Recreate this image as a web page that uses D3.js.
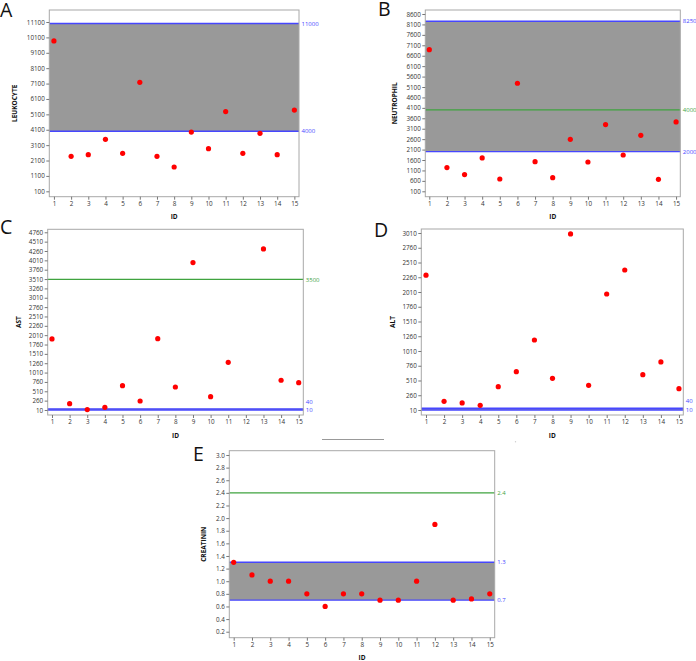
<!DOCTYPE html>
<html><head><meta charset="utf-8">
<script src="https://cdn.jsdelivr.net/npm/d3@7"></script>
<style>
html,body{margin:0;padding:0;background:#fff;}
svg{display:block;}
text{font-family:"Open Sans","Liberation Sans",sans-serif;}
</style></head>
<body>
<svg id="c" width="696" height="661"></svg>
<script>
const ids = [1,2,3,4,5,6,7,8,9,10,11,12,13,14,15];
const leukocyte = [9870,2370,2480,3480,2570,7180,2370,1680,3950,2870,5280,2570,3870,2480,5380];
const neutrophil = [6890,1235,900,1700,690,5280,1520,755,2590,1505,3300,1840,2785,675,3425];
const ast = [1910,180,20,80,660,250,1915,625,3950,365,1285,null,4315,805,740];
const alt = [2295,157,129,89,405,660,1196,547,2995,428,1976,2383,609,824,372];
const creatinin = [1.3,1.1,1.0,1.0,0.8,0.6,0.8,0.8,0.7,0.7,1.0,1.9,0.7,0.72,0.8];

const leukoTicks = [100,1100,2100,3100,4100,5100,6100,7100,8100,9100,10100,11100];
const neutroTicks = [100,600,1100,1600,2100,2600,3100,3600,4100,4600,5100,5600,6100,6600,7100,7600,8100,8600];
const astTicks = [10,260,510,760,1010,1260,1510,1760,2010,2260,2510,2760,3010,3260,3510,3760,4010,4260,4510,4760];
const altTicks = [10,260,510,760,1010,1260,1510,1760,2010,2260,2510,2760,3010];
const creaTicks = [0.2,0.4,0.6,0.8,1.0,1.2,1.4,1.6,1.8,2.0,2.2,2.4,2.6,2.8,3.0];

const BLUE = "#4646ff", GREEN = "#3fa33f";

const panels = [
  {letter:"A", title:"LEUKOCYTE", values:leukocyte, ticks:leukoTicks, fmt:d3.format("d"),
   box:[49.3,10,299,196.7], ydom:[-250,11880], xdom:[0.73,15.27],
   band:[4000,11000], lines:[{v:11000,c:BLUE,t:"11000",dy:0},{v:4000,c:BLUE,t:"4000",dy:0}],
   letterPos:[0,17], titleX:15, idY:217},
  {letter:"B", title:"NEUTROPHIL", values:neutrophil, ticks:neutroTicks, fmt:d3.format("d"),
   box:[425.3,10,680.3,196.7], ydom:[-159,8792], xdom:[0.773,15.24],
   band:[2000,8250], lines:[{v:8250,c:BLUE,t:"8250",dy:0},{v:2000,c:BLUE,t:"2000",dy:0},{v:4000,c:GREEN,t:"4000",dy:0}],
   letterPos:[378,16], titleX:394.3, idY:217},
  {letter:"C", title:"AST", values:ast, ticks:astTicks, fmt:d3.format("d"),
   box:[47.7,229.3,303.3,415], ydom:[-124,4840], xdom:[0.756,15.26],
   band:[10,40], lines:[{v:10,c:BLUE,t:"10",dy:0},{v:40,c:BLUE,t:"40",dy:-7},{v:3500,c:GREEN,t:"3500",dy:0}],
   letterPos:[0,234], titleX:18.3, idY:436},
  {letter:"D", title:"ALT", values:alt, ticks:altTicks, fmt:d3.format("d"),
   box:[421.3,229,683.3,415], ydom:[-75,3078], xdom:[0.74,15.24],
   band:[10,40], lines:[{v:10,c:BLUE,t:"10",dy:0},{v:40,c:BLUE,t:"40",dy:-7}],
   letterPos:[374,237], titleX:392.3, idY:436},
  {letter:"E", title:"CREATININ", values:creatinin, ticks:creaTicks, fmt:d3.format(".1f"),
   box:[229.3,450.7,494.7,637.7], ydom:[0.105,3.068], xdom:[0.76,15.27],
   band:[0.7,1.3], lines:[{v:1.3,c:BLUE,t:"1.3",dy:0},{v:0.7,c:BLUE,t:"0.7",dy:0},{v:2.4,c:GREEN,t:"2.4",dy:0}],
   letterPos:[193,461], titleX:204, idY:658}
];

const svg = d3.select("#c");

panels.forEach(p => {
  const [l,t,r,b] = p.box;
  const x = d3.scaleLinear().domain(p.xdom).range([l,r]);
  const y = d3.scaleLinear().domain(p.ydom).range([b,t]);
  const g = svg.append("g");

  // band
  g.append("rect").attr("x",l).attr("width",r-l)
    .attr("y",y(p.band[1])).attr("height",y(p.band[0])-y(p.band[1]))
    .attr("fill","#999999");

  // reference lines
  p.lines.forEach(ln => {
    const yy = y(ln.v);
    g.append("line").attr("x1",l).attr("x2",r).attr("y1",yy).attr("y2",yy)
      .style("stroke",ln.c).style("stroke-width",ln.c===BLUE?1.4:1.2);
    g.append("text").attr("x",r+2.5).attr("y",yy+ln.dy).attr("dy","0.35em")
      .attr("font-size",6).attr("fill",ln.c).text(ln.t);
  });

  // frame
  g.append("rect").attr("x",l).attr("y",t).attr("width",r-l).attr("height",b-t)
    .attr("fill","none").attr("stroke","#a8a8a8").attr("stroke-width",1);

  // y axis
  const ya = g.append("g").attr("transform",`translate(${l},0)`)
    .call(d3.axisLeft(y).tickValues(p.ticks).tickFormat(p.fmt).tickSize(3).tickPadding(1.5));
  ya.select(".domain").remove();
  ya.selectAll(".tick line").attr("stroke","#777");
  ya.selectAll("text").attr("font-size",6.3).attr("fill","#333")
    .attr("font-family","'Open Sans','Liberation Sans',sans-serif");

  // x axis
  const xa = g.append("g").attr("transform",`translate(0,${b})`)
    .call(d3.axisBottom(x).tickValues(ids).tickFormat(d3.format("d")).tickSize(3).tickPadding(2));
  xa.select(".domain").remove();
  xa.selectAll(".tick line").attr("stroke","#777");
  xa.selectAll("text").attr("font-size",6.3).attr("fill","#333")
    .attr("font-family","'Open Sans','Liberation Sans',sans-serif");

  // titles
  g.append("text").attr("transform",`translate(${p.titleX},${(t+b)/2}) rotate(-90)`)
    .attr("text-anchor","middle").attr("dy","0.35em")
    .attr("font-size",6.5).attr("font-weight","bold").attr("fill","#111").text(p.title);
  g.append("text").attr("x",(l+r)/2).attr("y",p.idY).attr("dy","0.35em")
    .attr("text-anchor","middle").attr("font-size",6.5).attr("font-weight","bold")
    .attr("fill","#111").text("ID");

  // points
  g.selectAll("circle").data(ids.map((id,i)=>({id,v:p.values[i]})).filter(d=>d.v!=null))
    .join("circle").attr("cx",d=>x(d.id)).attr("cy",d=>y(d.v)).attr("r",2.6).attr("fill","#ff0000");

  // panel letter
  svg.append("text").attr("x",p.letterPos[0]).attr("y",p.letterPos[1])
    .attr("font-size",19.5).attr("fill","#111").text(p.letter);
});

// stray separator line and dot in the original figure
svg.append("line").attr("x1",322).attr("x2",384).attr("y1",439.5).attr("y2",439.5)
  .attr("stroke","#999").attr("stroke-width",1);
svg.append("circle").attr("cx",515.5).attr("cy",441.7).attr("r",0.7).attr("fill","#ccc");
</script>
</body></html>
